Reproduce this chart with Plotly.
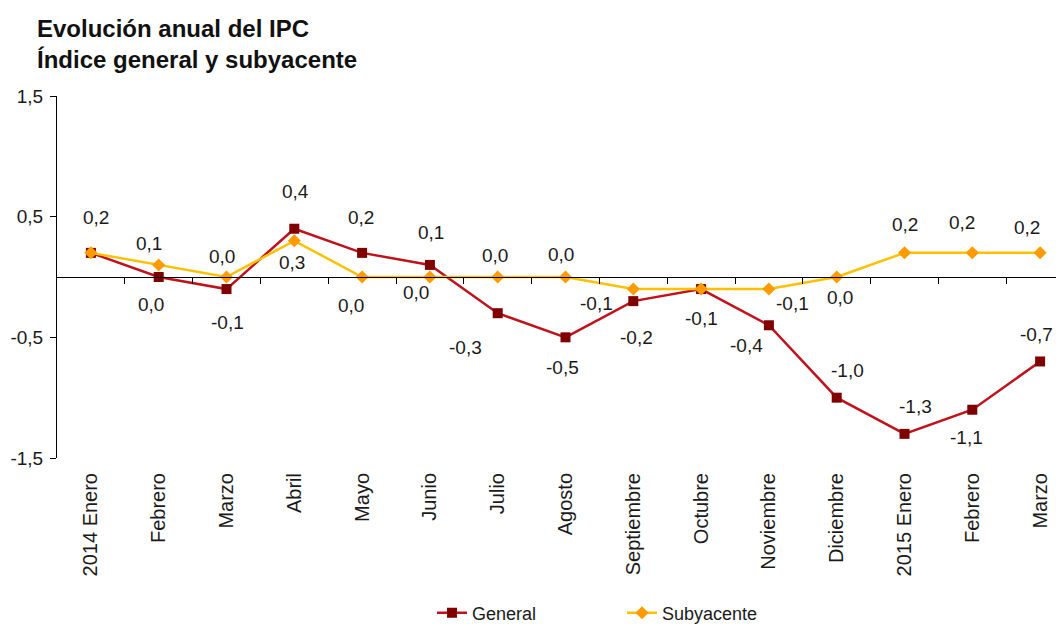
import plotly.graph_objects as go

categories = ["2014 Enero", "Febrero", "Marzo", "Abril", "Mayo", "Junio", "Julio",
              "Agosto", "Septiembre", "Octubre", "Noviembre", "Diciembre",
              "2015 Enero", "Febrero", "Marzo"]
general = [0.2, 0.0, -0.1, 0.4, 0.2, 0.1, -0.3, -0.5, -0.2, -0.1, -0.4, -1.0, -1.3, -1.1, -0.7]
subyacente = [0.2, 0.1, 0.0, 0.3, 0.0, 0.0, 0.0, 0.0, -0.1, -0.1, -0.1, 0.0, 0.2, 0.2, 0.2]
y_ticks = [1.5, 0.5, -0.5, -1.5]

# label placement (pixel offsets: dx right, dy down); None = label hidden (overlap)
gen_off = [(5, -35), (-8, 27), (1, 33), (1, -37), (-1, -35), (1, -32), (-32, 34), (-3, 30),
           (3, 36), (0, 29), (-22, 20), (11, -27), (11, -27), (-6, 28), (-4, -27)]
sub_off = [None, (-10, -21), (-5, -21), (-2, 22), (-11, 28), (-14, 15), (-3, -22), (-5, -23),
           (-37, 14), None, (24, 14), (3, 20), (0, -28), (-10, -30), (-13, -25)]

FONT = "Arial, Liberation Sans, sans-serif"
TXT = "#1a1a1a"

# page body has an 8px margin, so the figure is laid out 8px in from the window corner
W, H = 1048, 616
L, R, T, B = 49, 0, 88, 166
PLOT_W = W - L - R
PLOT_H = H - T - B
SPACING = 67.8


def fmt(v):
    return f"{v:.1f}".replace(".", ",")


xs = list(range(len(categories)))
ymin, ymax = -1.5, 1.5
xrange_ = [-0.5, -0.5 + PLOT_W / SPACING]

fig = go.Figure()
fig.add_trace(go.Scatter(
    x=xs, y=general, name="General", mode="lines+markers",
    line=dict(color="#C0121B", width=2.5),
    marker=dict(symbol="square", size=10, color="#7F0000"),
))
fig.add_trace(go.Scatter(
    x=xs, y=subyacente, name="Subyacente", mode="lines+markers",
    line=dict(color="#FFC000", width=2.5),
    marker=dict(symbol="diamond", size=10, color="#FF9A00"),
))
# helper trace to host the zero-line axis with category-boundary ticks
fig.add_trace(go.Scatter(x=[], y=[], xaxis="x2", showlegend=False, hoverinfo="skip"))

annotations = []
for series, offs in ((general, gen_off), (subyacente, sub_off)):
    for i, (v, off) in enumerate(zip(series, offs)):
        if off is None:
            continue
        annotations.append(dict(
            x=i, y=v, xref="x", yref="y", text=fmt(v), showarrow=False,
            xshift=off[0], yshift=-off[1], font=dict(family=FONT, size=19, color=TXT),
        ))

annotations.append(dict(
    text="<b>Evolución anual del IPC<br>Índice general y subyacente</b>",
    xref="paper", yref="paper", x=(27 - L) / PLOT_W, y=1 + (T - 5) / PLOT_H,
    xanchor="left", yanchor="top", align="left", showarrow=False,
    font=dict(family=FONT, size=24, color="#111111"),
))

fig.update_layout(
    width=W, height=H,
    paper_bgcolor="white", plot_bgcolor="white",
    margin=dict(l=L, r=R, t=T, b=B, autoexpand=False),
    font=dict(family=FONT, color=TXT),
    xaxis=dict(
        range=xrange_, tickmode="array", tickvals=xs, ticktext=categories,
        tickangle=-90, showline=False, showgrid=False, zeroline=False, ticks="",
        tickfont=dict(family=FONT, size=20, color=TXT), ticklabelstandoff=10,
        automargin=False,
    ),
    xaxis2=dict(
        overlaying="x", anchor="free", position=(0 - ymin) / (ymax - ymin),
        range=xrange_, tickmode="array",
        tickvals=[i + 0.5 for i in xs[:-1]], showticklabels=False,
        showline=True, linecolor="black", linewidth=1,
        ticks="outside", ticklen=6, tickcolor="black", tickwidth=1,
        showgrid=False, zeroline=False, side="bottom", automargin=False,
    ),
    yaxis=dict(
        range=[ymin, ymax], tickmode="array", tickvals=y_ticks,
        ticktext=[fmt(v) for v in y_ticks],
        showline=True, linecolor="black", linewidth=1,
        ticks="outside", ticklen=6, tickcolor="black",
        showgrid=False, zeroline=False, automargin=False, ticklabelstandoff=3,
        tickfont=dict(family=FONT, size=19, color=TXT),
    ),
    legend=dict(
        orientation="h", x=(424 - L) / PLOT_W, xanchor="left",
        y=(450 - 605) / PLOT_H, yanchor="middle",
        font=dict(family=FONT, size=18, color=TXT),
        entrywidth=145, entrywidthmode="pixels",
        bgcolor="rgba(0,0,0,0)",
    ),
    annotations=annotations,
)

fig.write_html("out.html")
